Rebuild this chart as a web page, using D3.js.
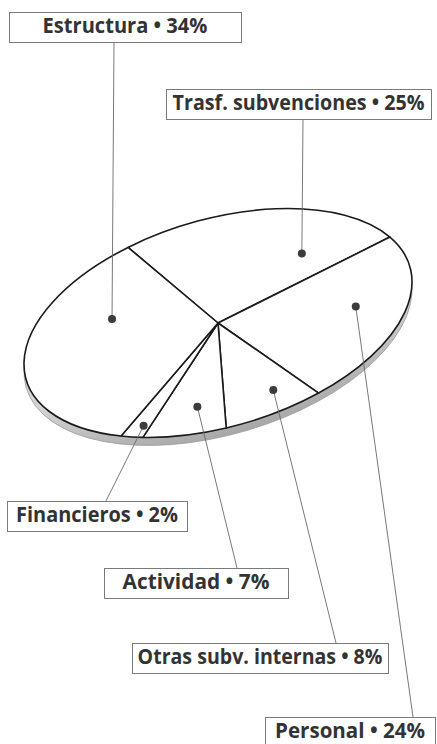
<!DOCTYPE html>
<html>
<head>
<meta charset="utf-8">
<script src="https://cdn.jsdelivr.net/npm/d3@7"></script>
<style>
  body { margin: 0; background: #fff; }
  text { font-family: "Open Sans", "DejaVu Sans", sans-serif; font-weight: 700; }
</style>
</head>
<body>
<div id="canvas"></div>
<script>
// data, going clockwise from the top-left boundary
var categories = ["Trasf. subvenciones", "Personal", "Otras subv. internas", "Actividad", "Financieros", "Estructura"];
var shares = [25, 24, 8, 7, 2, 34];

// where each dot sits inside its slice: [fraction of slice angle, fraction of radius]
var dotAt = [[0.77, 0.65], [0.43, 0.72], [0.35, 0.79], [0.42, 0.75], [0.34, 0.9], [0.69, 0.6]];
// label boxes [x0, y0, x1, y1], x where the leader meets the box, and text width
var boxes = [[166, 89, 431, 119], [265, 717, 435, 747], [132, 643, 388, 673], [104, 568, 288, 598], [7, 501, 187, 531], [9, 12, 241, 42]];
var leaderX = [303, 413, 336, 237, 106, 114];
var textW = [252, 150, 245, 147, 162, 165];

var W = 437, H = 744;
var cx = 218, cy = 323, R = 200, squash = 0.518, tilt = -16.5, depth = 8;
var startDeg = -18.9;

var svg = d3.select("#canvas").append("svg")
    .attr("width", W)
    .attr("height", H);

var defs = svg.append("defs");
var grad = defs.append("linearGradient")
    .attr("id", "side")
    .attr("x1", 0).attr("y1", 0).attr("x2", 0).attr("y2", 1);
grad.append("stop").attr("offset", "0.6").attr("stop-color", "#d4d4d4");
grad.append("stop").attr("offset", "1").attr("stop-color", "#a8a8a8");

var pie = d3.pie()
    .sort(null)
    .startAngle(startDeg * Math.PI / 180)
    .endAngle((startDeg + 360) * Math.PI / 180);

var arcs = pie(shares);

var arc = d3.arc().innerRadius(0).outerRadius(R);

var tr = "translate(" + cx + "," + cy + ") rotate(" + tilt + ") scale(1," + squash + ")";

// side of the disc
svg.append("g")
    .attr("transform", "translate(" + cx + "," + (cy + depth) + ") rotate(" + tilt + ") scale(1," + squash + ")")
    .append("circle")
    .attr("r", R)
    .attr("fill", "url(#side)")
    .attr("stroke", "#999")
    .attr("stroke-width", 0.8)
    .attr("vector-effect", "non-scaling-stroke");

var disc = svg.append("g").attr("transform", tr);

disc.selectAll("path")
    .data(arcs)
    .enter()
    .append("path")
    .attr("d", arc)
    .attr("fill", "#fff")
    .attr("stroke", "#1a1a1a")
    .attr("stroke-width", 1.6)
    .attr("stroke-linejoin", "round")
    .attr("vector-effect", "non-scaling-stroke");

// map a point of the flat pie onto the tilted disc
var th = tilt * Math.PI / 180;
function project(a, r) {
    var x = r * Math.sin(a), y = -r * Math.cos(a) * squash;
    return [cx + x * Math.cos(th) - y * Math.sin(th), cy + x * Math.sin(th) + y * Math.cos(th)];
}

var dots = arcs.map(function(d, i) {
    var a = d.startAngle + dotAt[i][0] * (d.endAngle - d.startAngle);
    return project(a, dotAt[i][1] * R);
});

// leader lines
svg.selectAll("line.leader")
    .data(arcs)
    .enter()
    .append("line")
    .attr("class", "leader")
    .attr("x1", (d, i) => dots[i][0])
    .attr("y1", (d, i) => dots[i][1])
    .attr("x2", (d, i) => leaderX[i])
    .attr("y2", (d, i) => boxes[i][1] > dots[i][1] ? boxes[i][1] : boxes[i][3])
    .attr("stroke", "#6a6a6a")
    .attr("stroke-width", 0.9);

svg.selectAll("circle.dot")
    .data(arcs)
    .enter()
    .append("circle")
    .attr("class", "dot")
    .attr("cx", (d, i) => dots[i][0])
    .attr("cy", (d, i) => dots[i][1])
    .attr("r", 4)
    .attr("fill", "#3c3c3c");

// labels
var label = svg.selectAll("g.label")
    .data(arcs)
    .enter()
    .append("g")
    .attr("class", "label");

label.append("rect")
    .attr("x", (d, i) => boxes[i][0] + 0.5)
    .attr("y", (d, i) => boxes[i][1] + 0.5)
    .attr("width", (d, i) => boxes[i][2] - boxes[i][0])
    .attr("height", (d, i) => boxes[i][3] - boxes[i][1])
    .attr("fill", "#fff")
    .attr("stroke", "#7a7a7a")
    .attr("stroke-width", 1);

// text squeezed horizontally to the condensed width of the original
label.append("text")
    .attr("text-anchor", "middle")
    .attr("font-size", 20.5)
    .attr("fill", "#333")
    .text((d, i) => categories[i] + " \u2022 " + shares[i] + "%")
    .attr("transform", function(d, i) {
        var len = this.getComputedTextLength();
        var x = (boxes[i][0] + boxes[i][2]) / 2, y = boxes[i][1] + 21;
        return "translate(" + x + "," + y + ") scale(" + (textW[i] / len) + ",1)";
    });
</script>
</body>
</html>
